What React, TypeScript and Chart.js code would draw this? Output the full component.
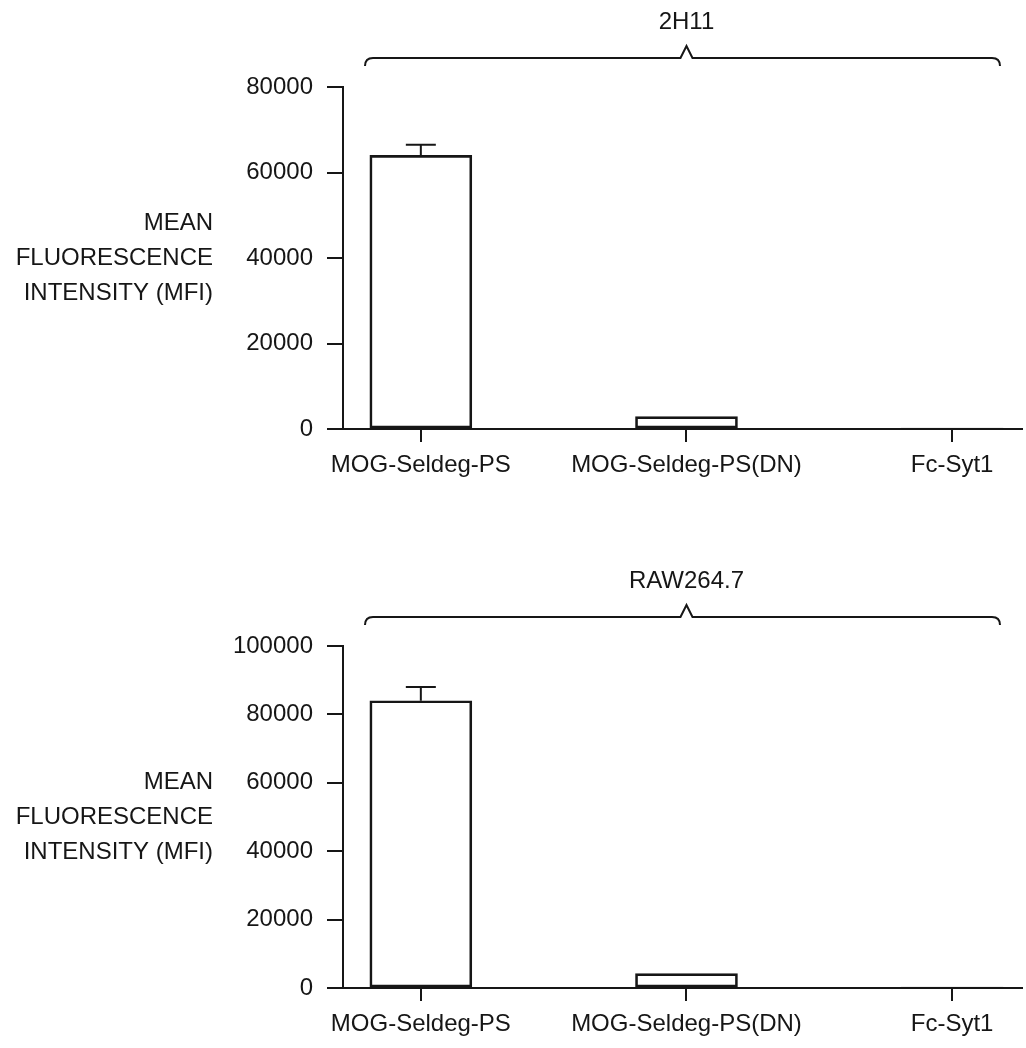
import React, { useEffect, useRef } from "react";
import { Chart, registerables } from "chart.js";

Chart.register(...registerables);

const categories = ["MOG-Seldeg-PS", "MOG-Seldeg-PS(DN)", "Fc-Syt1"];
const categoryIndex = [0, 1, 2];

const title2H11 = "2H11";
const values2H11 = [64000, 2900, 100];
const errorTop2H11 = [66500, null, null];
const max2H11 = 80000;

const titleRAW = "RAW264.7";
const valuesRAW = [84000, 4200, 100];
const errorTopRAW = [88000, null, null];
const maxRAW = 100000;

const yStep = 20000;
const yTitleLines = ["MEAN", "FLUORESCENCE", "INTENSITY (MFI)"];

const FONT = "'Liberation Sans', Arial, sans-serif";
const INK = "#161616";

const decorPlugin = {
  id: "decor",
  afterDatasetsDraw(chart: any, _args: any, opts: any) {
    const ctx = chart.ctx;
    const area = chart.chartArea;
    const xs = chart.scales.x;
    const ys = chart.scales.y;
    ctx.save();
    ctx.strokeStyle = INK;
    ctx.fillStyle = INK;
    ctx.lineWidth = 2;
    // error bars
    const meta = chart.getDatasetMeta(0);
    (opts.errors || []).forEach((e: number | null, i: number) => {
      if (e == null) return;
      const el = meta.data[i];
      const x = el.x;
      const yTop = ys.getPixelForValue(e);
      ctx.beginPath();
      ctx.moveTo(x, el.y);
      ctx.lineTo(x, yTop);
      ctx.moveTo(x - 15, yTop);
      ctx.lineTo(x + 15, yTop);
      ctx.stroke();
    });
    // brace
    const y0 = area.top - 29;
    const L = area.left + 22;
    const R = area.right - 22;
    const mid = xs.getPixelForValue(1);
    ctx.beginPath();
    ctx.moveTo(L, y0 + 8);
    ctx.quadraticCurveTo(L, y0, L + 8, y0);
    ctx.lineTo(mid - 6, y0);
    ctx.lineTo(mid, y0 - 12);
    ctx.lineTo(mid + 6, y0);
    ctx.lineTo(R - 8, y0);
    ctx.quadraticCurveTo(R, y0, R, y0 + 8);
    ctx.stroke();
    // title
    ctx.font = `24px ${FONT}`;
    ctx.textAlign = "center";
    ctx.textBaseline = "middle";
    ctx.fillText(opts.title, mid, y0 - 36);
    // y title
    const cy = (area.top + area.bottom) / 2;
    ctx.textAlign = "right";
    yTitleLines.forEach((t, i) => {
      ctx.fillText(t, 213, cy + (i - 1) * 35);
    });
    ctx.restore();
  },
};

function makeConfig(values: number[], errors: (number | null)[], max: number, title: string, padTop: number, xHeight: number) {
  return {
    type: "bar" as const,
    data: {
      datasets: [
        {
          data: categoryIndex.map((c, i) => ({ x: c, y: values[i] })),
          backgroundColor: "rgba(255,255,255,0)",
          borderColor: INK,
          borderWidth: 2,
          borderSkipped: false,
          barThickness: 102,
        },
      ],
    },
    options: {
      responsive: false,
      animation: false,
      layout: { padding: { top: padTop, left: 0, right: 4, bottom: 0 } },
      plugins: {
        legend: { display: false },
        tooltip: { enabled: false },
        decor: { errors, title },
      },
      scales: {
        x: {
          type: "linear",
          offset: false,
          min: -0.293,
          max: 2.263,
          afterBuildTicks: (s: any) => {
            s.ticks = categoryIndex.map((v) => ({ value: v }));
          },
          afterFit: (s: any) => {
            s.height = xHeight;
          },
          ticks: {
            callback: (v: any) => categories[v] ?? "",
            color: INK,
            font: { family: FONT, size: 24 },
            padding: 9,
            maxRotation: 0,
            autoSkip: false,
          },
          grid: { offset: false, drawOnChartArea: false, drawTicks: true, tickLength: 13, color: INK, lineWidth: 2 },
          border: { display: true, color: INK, width: 2 },
        },
        y: {
          min: 0,
          max,
          afterFit: (s: any) => {
            s.width = 343;
          },
          ticks: {
            stepSize: yStep,
            color: INK,
            font: { family: FONT, size: 24 },
            padding: 14,
            callback: (v: any) => String(v),
          },
          grid: { drawOnChartArea: false, drawTicks: true, tickLength: 16, color: INK, lineWidth: 2 },
          border: { display: true, color: INK, width: 2 },
        },
      },
    },
    plugins: [decorPlugin],
  };
}

function ChartCanvas({ config, top, height }: { config: any; top: number; height: number }) {
  const ref = useRef<HTMLCanvasElement | null>(null);
  useEffect(() => {
    if (!ref.current) return;
    const chart = new Chart(ref.current, config);
    return () => chart.destroy();
  }, []);
  return (
    <canvas
      ref={ref}
      width={1026}
      height={height}
      style={{ position: "absolute", left: 0, top, width: 1026, height }}
    />
  );
}

export default function App() {
  return (
    <div style={{ position: "absolute", left: 0, top: 0, width: 1026, height: 1048, background: "#fff" }}>
      <ChartCanvas config={makeConfig(values2H11, errorTop2H11, max2H11, title2H11, 87, 81)} top={0} height={510} />
      <ChartCanvas config={makeConfig(valuesRAW, errorTopRAW, maxRAW, titleRAW, 126, 60)} top={520} height={528} />
    </div>
  );
}
